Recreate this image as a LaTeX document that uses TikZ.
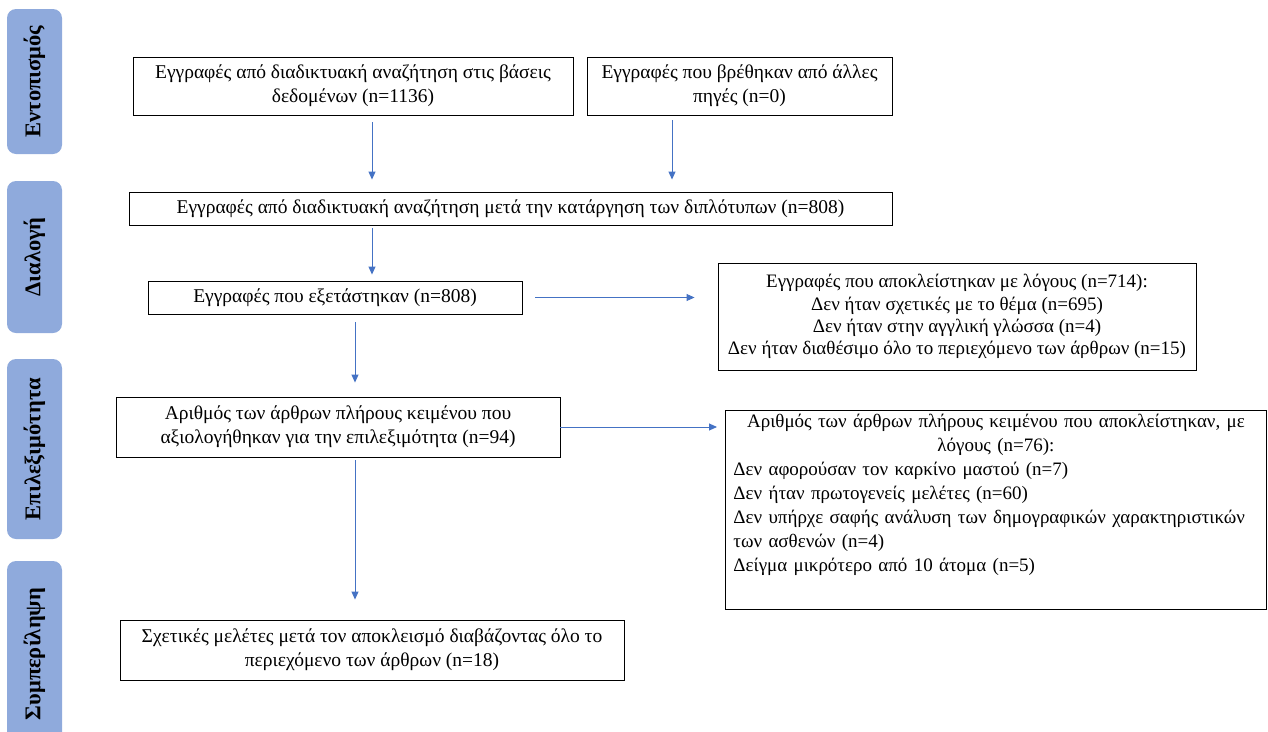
\documentclass[tikz,border=0pt]{standalone}
\usepackage{fontspec}
\setmainfont{Liberation Serif}
\usepackage{xcolor}
\usetikzlibrary{arrows.meta}

\definecolor{stageblue}{HTML}{8FAADC}
\definecolor{flowblue}{HTML}{4472C4}

\begin{document}
\begin{tikzpicture}[
  x=1pt, y=-1pt,
  box/.style={draw, line width=0.9pt, align=center, inner sep=3pt, font=\fontsize{19.5}{24}\selectfont},
  reasons/.style={box, font=\fontsize{19}{22.3}\selectfont},
  stage/.style={fill=stageblue, rounded corners=9pt, rotate=90, minimum height=55pt, inner sep=0pt, font=\fontsize{22.5}{26}\selectfont\bfseries},
  arrow/.style={-{Triangle[length=8pt, width=7pt]}, flowblue, line width=0.9pt}
]
\useasboundingbox (0,0) rectangle (1268,731);

% stages on the left
\node[stage, minimum width=145pt] (identification) at (34.5,81.5) {Εντοπισμός};
\node[stage, minimum width=152pt] (screening) at (34.5,257) {Διαλογή};
\node[stage, minimum width=180pt] (eligibility) at (34.5,449) {Επιλεξιμότητα};
\node[stage, minimum width=186pt] (included) at (34.5,654) {Συμπερίληψη};

% flow boxes
\node[box, minimum width=440pt, minimum height=58pt] (databases) at (353,86)
  {Εγγραφές από διαδικτυακή αναζήτηση στις βάσεις\\δεδομένων (n=1136)};
\node[box, minimum width=305pt, minimum height=58pt] (other) at (739.5,86)
  {Εγγραφές που βρέθηκαν από άλλες\\πηγές (n=0)};
\node[box, minimum width=763pt, minimum height=33pt] (dedup) at (510.5,208.5)
  {Εγγραφές από διαδικτυακή αναζήτηση μετά την κατάργηση των διπλότυπων (n=808)};
\node[box, minimum width=374pt, minimum height=33pt] (screened) at (335,297.5)
  {Εγγραφές που εξετάστηκαν (n=808)};
\node[reasons, minimum width=478pt, minimum height=107pt] (excluded) at (957,316.5)
  {Εγγραφές που αποκλείστηκαν με λόγους (n=714):\\
   Δεν ήταν σχετικές με το θέμα (n=695)\\
   Δεν ήταν στην αγγλική γλώσσα (n=4)\\
   Δεν ήταν διαθέσιμο όλο το περιεχόμενο των άρθρων (n=15)};
\node[box, font=\fontsize{19}{24}\selectfont, align=left, text width=525pt, inner xsep=8pt, inner ysep=4pt, anchor=north west] (fullexcl) at (725,410)
  {{\centering Αριθμός των άρθρων πλήρους κειμένου που αποκλείστηκαν, με\\ λόγους (n=76):\par}
   Δεν αφορούσαν τον καρκίνο μαστού (n=7)\\
   Δεν ήταν πρωτογενείς μελέτες (n=60)\\
   Δεν υπήρχε σαφής ανάλυση των δημογραφικών χαρακτηριστικών\\
   των ασθενών (n=4)\\
   Δείγμα μικρότερο από 10 άτομα (n=5)\rule[-34pt]{0pt}{1pt}};
\node[box, minimum width=444pt, minimum height=60pt] (fulltext) at (338,427)
  {Αριθμός των άρθρων πλήρους κειμένου που\\αξιολογήθηκαν για την επιλεξιμότητα (n=94)};
\node[box, minimum width=504pt, minimum height=60pt] (studies) at (372,650)
  {Σχετικές μελέτες μετά τον αποκλεισμό διαβάζοντας όλο το\\περιεχόμενο των άρθρων (n=18)};

% vertical lines of the arrows
\coordinate (leftline) at (372,0);
\coordinate (rightline) at (672,0);
\coordinate (midline) at (355,0);

\draw[arrow, shorten <=7pt, shorten >=12pt] (databases.south -| leftline) -- (dedup.north -| leftline);
\draw[arrow, shorten <=5pt, shorten >=12pt] (other.south -| rightline) -- (dedup.north -| rightline);
\draw[arrow, shorten <=3pt, shorten >=6pt] (dedup.south -| leftline) -- (screened.north -| leftline);
\draw[arrow, shorten <=13pt, shorten >=23pt] (screened.east) -- (screened.east -| excluded.west);
\draw[arrow, shorten <=8pt, shorten >=14pt] (screened.south -| midline) -- (fulltext.north -| midline);
\draw[arrow, shorten >=8pt] (fulltext.east) -- (fulltext.east -| fullexcl.west);
\draw[arrow, shorten <=3pt, shorten >=20pt] (fulltext.south -| midline) -- (studies.north -| midline);
\end{tikzpicture}
\end{document}
